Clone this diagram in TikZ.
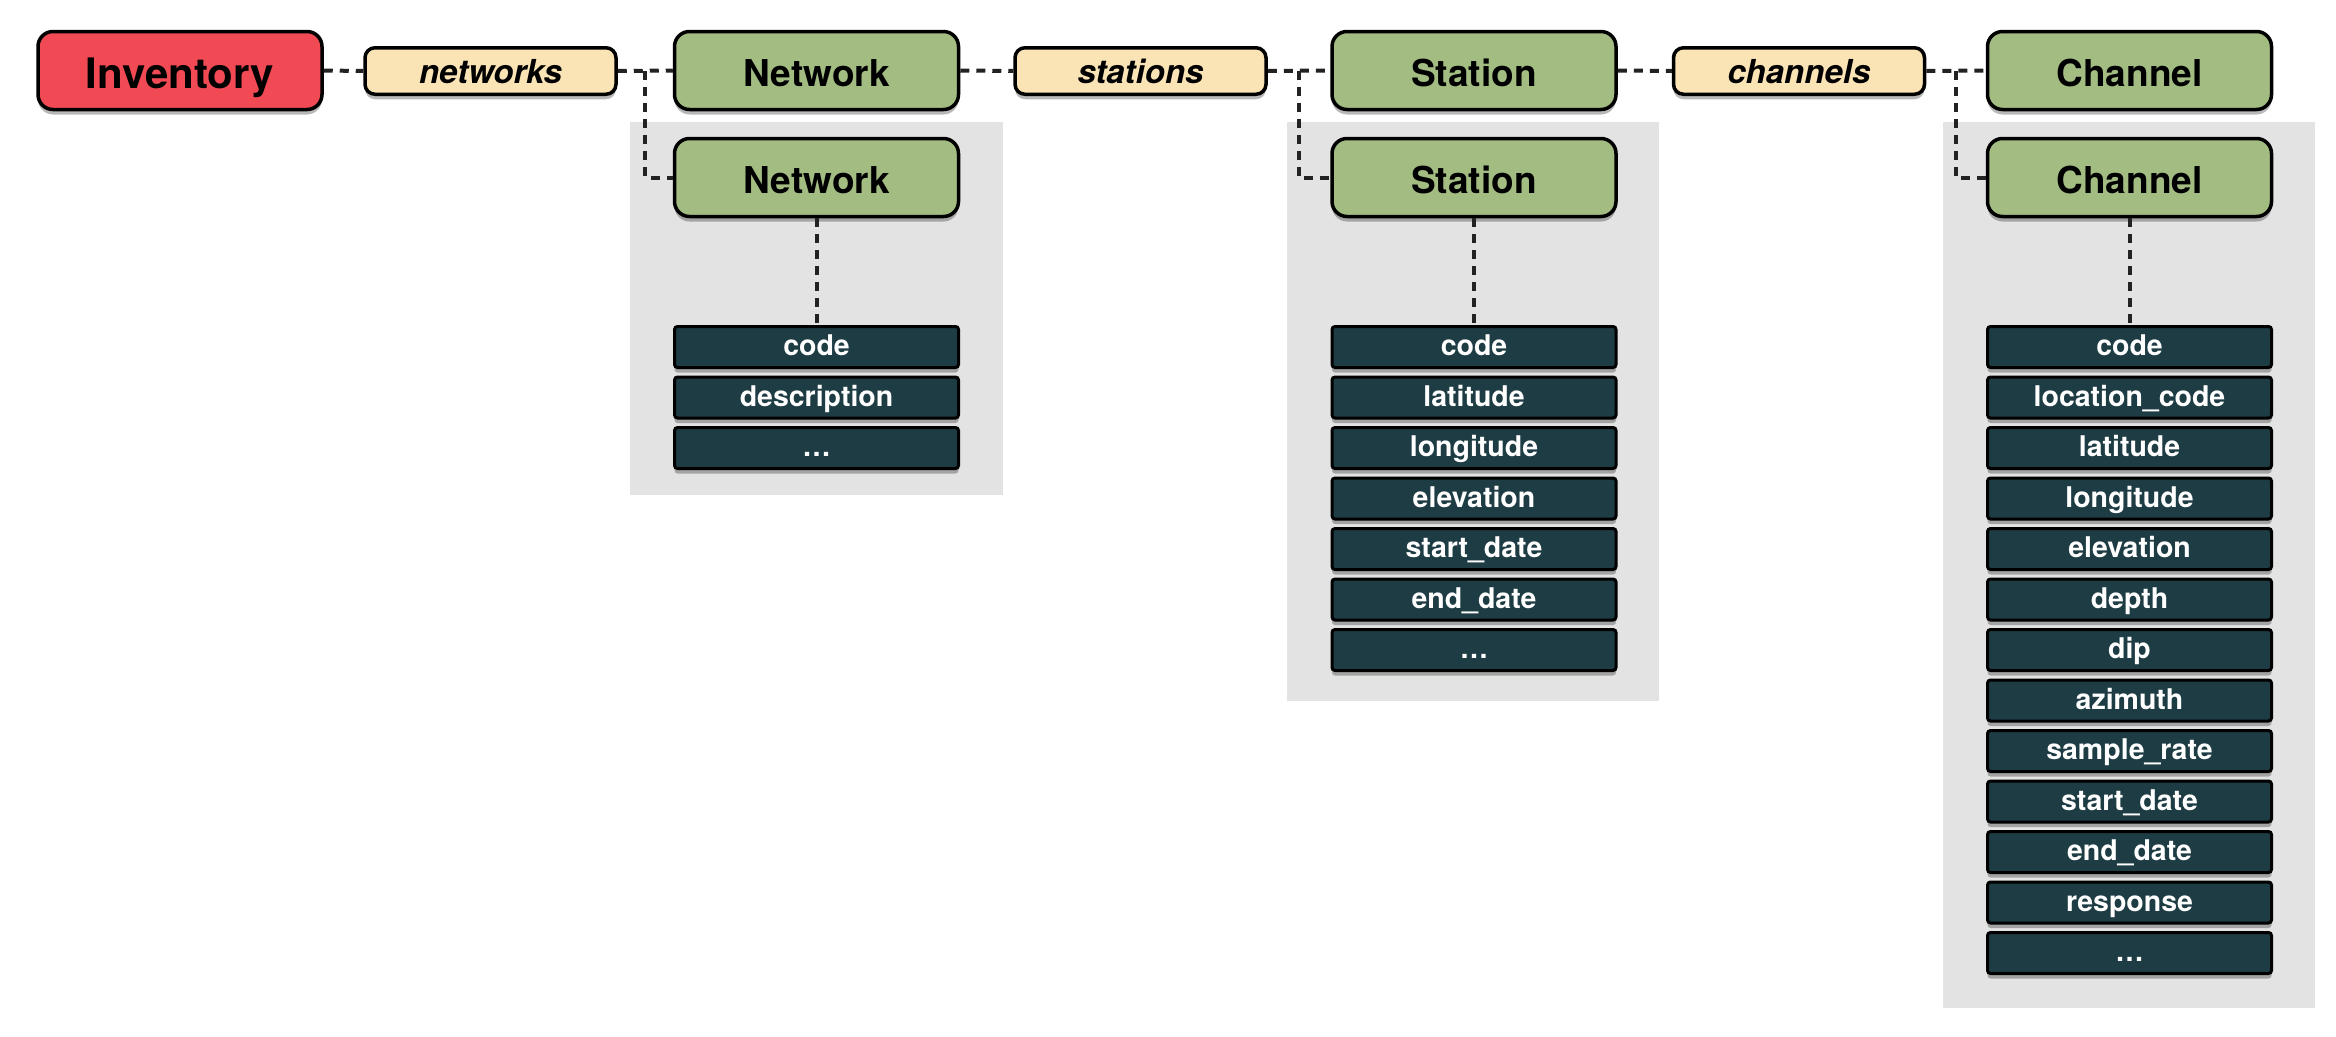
\documentclass[tikz,border=0pt]{standalone}
\usepackage{fontspec}
\setmainfont{TeX Gyre Heros}
\usetikzlibrary{shadows,calc}
\definecolor{invred}{RGB}{242,74,85}
\definecolor{netgreen}{RGB}{162,188,130}
\definecolor{peach}{RGB}{250,228,182}
\definecolor{attrteal}{RGB}{30,60,68}
\definecolor{panelgrey}{RGB}{227,227,227}
\definecolor{dashcol}{RGB}{34,34,34}
\begin{document}
\begin{tikzpicture}[x=1pt,y=-1pt,
  shad/.style={drop shadow={shadow xshift=0pt,shadow yshift=-5pt,opacity=0.28,fill=black}},
  mainbox/.style={draw=black,line width=3.5pt,rounded corners=15pt,minimum width=284pt,minimum height=78pt,inner sep=0pt,text height=35pt,text depth=4pt,font=\fontsize{37}{44}\selectfont\bfseries,shad},
  invbox/.style={mainbox,fill=invred,text height=40pt,text depth=4.4pt,font=\fontsize{42}{50}\selectfont\bfseries},
  greenbox/.style={mainbox,fill=netgreen},
  relbox/.style={draw=black,line width=3.5pt,rounded corners=10pt,fill=peach,minimum width=251pt,minimum height=46.5pt,inner sep=0pt,text height=28pt,text depth=4pt,font=\fontsize{33}{40}\selectfont\bfseries\itshape,shad},
  attr/.style={draw=black,line width=3pt,rounded corners=3pt,fill=attrteal,text=white,minimum width=284pt,minimum height=41pt,inner sep=0pt,text height=23pt,text depth=5.6pt,font=\fontsize{28.5}{34}\selectfont\bfseries,shad},
  conn/.style={draw=dashcol,line width=4pt,dash pattern=on 9pt off 7pt}
]
\fill[white] (0,0) rectangle (2336,1036);
\useasboundingbox (0,0) rectangle (2336,1036);
% panels
\fill[panelgrey] (630,122) rectangle (1003,495);
\fill[panelgrey] (1287,122) rectangle (1659,701);
\fill[panelgrey] (1943,122) rectangle (2315,1008);
% main row
\node[invbox] (inv) at (180,70.5) {Inventory};
\node[relbox] (networks) at (490.5,71) {networks};
\node[greenbox] (net1) at (816.5,70.5) {Network};
\node[greenbox] (net2) at (816.5,177.5) {Network};
\node[relbox] (stations) at (1140.5,71) {stations};
\node[greenbox] (sta1) at (1474,70.5) {Station};
\node[greenbox] (sta2) at (1474,177.5) {Station};
\node[relbox] (channels) at (1799,71) {channels};
\node[greenbox] (cha1) at (2129.5,70.5) {Channel};
\node[greenbox] (cha2) at (2129.5,177.5) {Channel};
% attributes
\foreach \t [count=\i] in {code,description,\ldots}
  \node[attr] (na\i) at (816.5,{347+50.5*(\i-1)}) {\t};
\foreach \t [count=\i] in {code,latitude,longitude,elevation,start\_date,end\_date,\ldots}
  \node[attr] (sa\i) at (1474,{347+50.5*(\i-1)}) {\t};
\foreach \t [count=\i] in {code,location\_code,latitude,longitude,elevation,depth,dip,azimuth,sample\_rate,start\_date,end\_date,response,\ldots}
  \node[attr] (ca\i) at (2129.5,{347+50.5*(\i-1)}) {\t};
% connectors
\coordinate (bn) at ($(networks.east)!0.5!(net1.west)$);
\coordinate (bs) at ($(stations.east)!0.5!(sta1.west)$);
\coordinate (bc) at ($(channels.east)!0.5!(cha1.west)$);
\draw[conn] (inv.east) -- (networks.west);
\draw[conn] (networks.east) -- (net1.west);
\draw[conn] (bn) |- (net2.west);
\draw[conn] (net1.east) -- (stations.west);
\draw[conn] (stations.east) -- (sta1.west);
\draw[conn] (bs) |- (sta2.west);
\draw[conn] (sta1.east) -- (channels.west);
\draw[conn] (channels.east) -- (cha1.west);
\draw[conn] (bc) |- (cha2.west);
\draw[conn] (net2.south) -- (na1.north);
\draw[conn] (sta2.south) -- (sa1.north);
\draw[conn] (cha2.south) -- (ca1.north);
\end{tikzpicture}
\end{document}
